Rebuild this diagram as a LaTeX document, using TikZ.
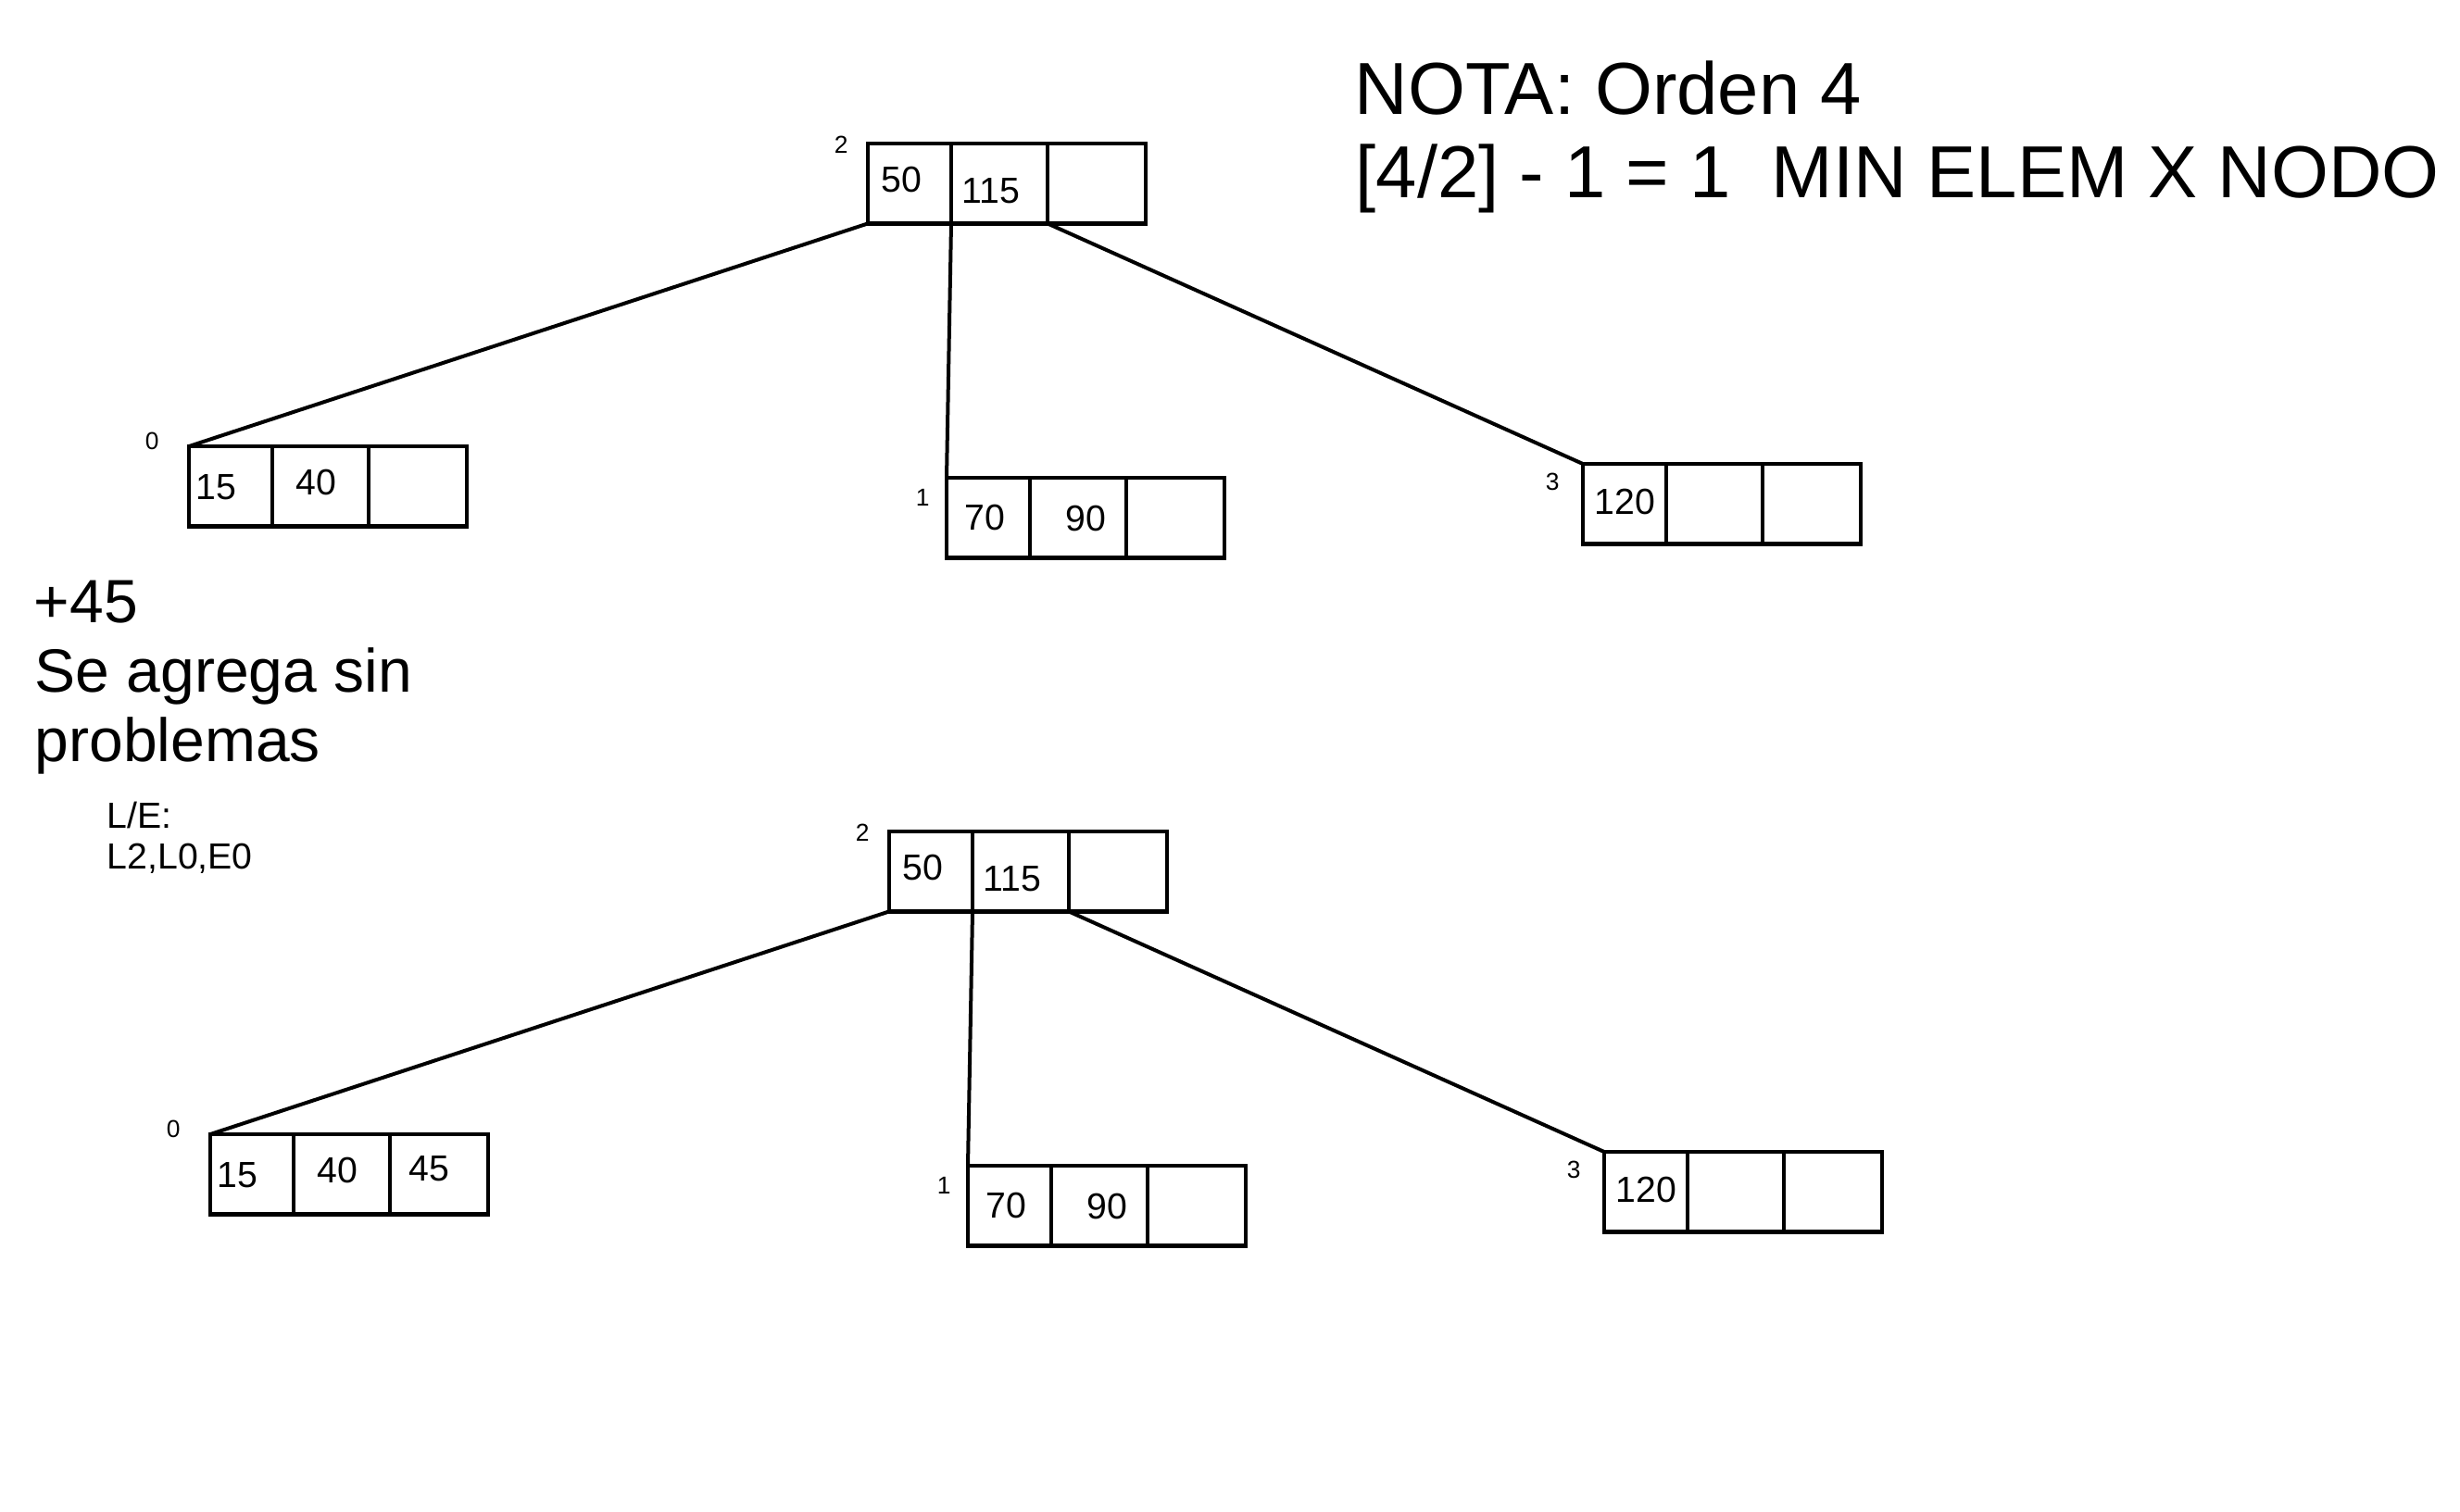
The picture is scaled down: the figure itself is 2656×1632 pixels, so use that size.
\documentclass[tikz,border=0pt]{standalone}
\usepackage{fontspec}
\setmainfont{Liberation Sans}
\begin{document}
\begin{tikzpicture}[x=0.25pt,y=-0.25pt]
\tikzset{
  bnode/.style={draw, line width=1.05pt, minimum width=75pt, minimum height=21.6pt,
    inner sep=0pt, outer sep=0pt, anchor=north west},
  div/.style={line width=1.05pt},
  val/.style={font=\fontsize{9.8}{11}\selectfont, inner sep=0pt, anchor=base west},
  idx/.style={font=\fontsize{6.6}{8}\selectfont, inner sep=0pt, anchor=base west},
  link/.style={line width=1pt},
  bigtxt/.style={font=\fontsize{19.9}{23}\selectfont, inner sep=0pt, anchor=base west},
  midtxt/.style={font=\fontsize{16.5}{19}\selectfont, inner sep=0pt, anchor=base west},
  smalltxt/.style={font=\fontsize{9.8}{11}\selectfont, inner sep=0pt, anchor=base west},
}
\useasboundingbox[fill=white] (0,0) rectangle (2656,1632);

% ---------- notes ----------
\node[bigtxt] (nota1) at (1462,123) {NOTA: Orden 4};
\node[bigtxt] (nota2) at (1463,213) {[4/2] - 1 = 1 \ MIN ELEM X NODO};
\node[midtxt] (add1) at (36,672) {+45};
\node[midtxt] (add2) at (37,747) {Se agrega sin};
\node[midtxt] (add3) at (37,822) {problemas};
\node[smalltxt] (le1) at (115,894) {L/E:};
\node[smalltxt] (le2) at (115,938) {L2,L0,E0};

% ---------- trees ----------
\foreach \p/\dx/\dy/\extra in {t/0/0/0, b/23/743/1}{
  \begin{scope}[shift={(\dx,\dy)}]
    \node[bnode] (\p r) at (937,155) {};
    \node[bnode] (\p 0) at (204,482) {};
    \node[bnode] (\p 1) at (1022,516) {};
    \node[bnode] (\p 3) at (1709,501) {};
    \foreach \n in {r,0,1,3}{
      \draw[div] ([xshift=22.5pt]\p\n.north west) -- ([xshift=22.5pt]\p\n.south west);
      \draw[div] ([xshift=48.5pt]\p\n.north west) -- ([xshift=48.5pt]\p\n.south west);
    }
    \coordinate (\p d1) at ([xshift=22.5pt]\p r.south west);
    \coordinate (\p d2) at ([xshift=48.5pt]\p r.south west);
    % connectors
    \draw[link] (\p r.south west) -- (\p 0.north west);
    \draw[link] (\p d1) -- (\p 1.north west);
    \draw[link] (\p d2) -- (\p 3.north west);
    % root
    \node[val] (\p r-a) at ([shift={(14,52)}]\p r.north west) {50};
    \node[val] (\p r-b) at ([shift={(101,64)}]\p r.north west) {115};
    \node[idx] (\p r-i) at ([shift={(-37,10)}]\p r.north west) {2};
    % child 0
    \node[val] (\p 0-a) at ([shift={(7,57)}]\p 0.north west) {15};
    \node[val] (\p 0-b) at ([shift={(115,52)}]\p 0.north west) {40};
    \node[idx] (\p 0-i) at ([shift={(-48,3)}]\p 0.north west) {0};
    \ifnum\extra=1
      \node[val] (\p 0-c) at ([shift={(214,50)}]\p 0.north west) {45};
    \fi
    % child 1
    \node[val] (\p 1-a) at ([shift={(19,56)}]\p 1.north west) {70};
    \node[val] (\p 1-b) at ([shift={(128,57)}]\p 1.north west) {90};
    \node[idx] (\p 1-i) at ([shift={(-34,30)}]\p 1.north west) {1};
    % child 3
    \node[val] (\p 3-a) at ([shift={(12,54)}]\p 3.north west) {120};
    \node[idx] (\p 3-i) at ([shift={(-41,28)}]\p 3.north west) {3};
  \end{scope}
}
\end{tikzpicture}
\end{document}
